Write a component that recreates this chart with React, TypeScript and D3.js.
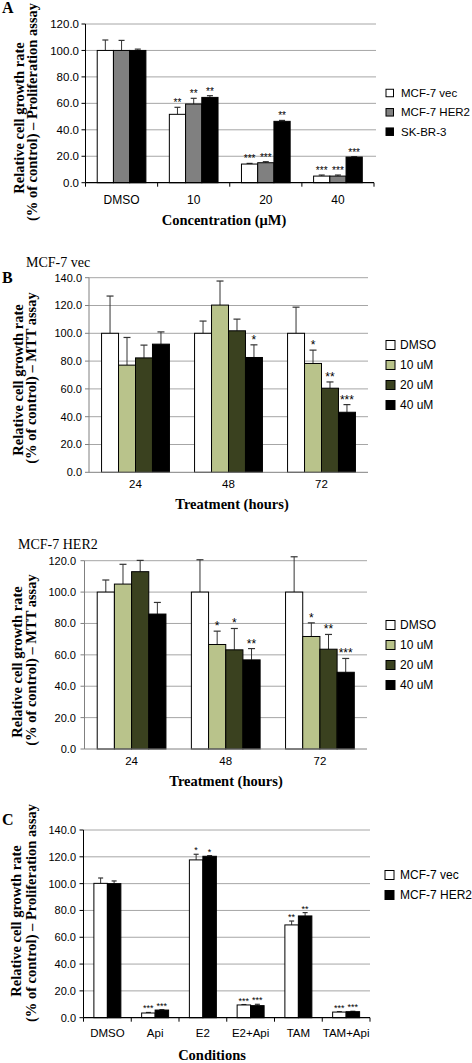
import React from "react";
import * as d3 from "d3";

const SANS = "'Liberation Sans', Arial, Helvetica, sans-serif";
const SERIF = "'Liberation Serif', 'Times New Roman', serif";

// ---------- Panel A ----------
const catsA = ["DMSO", "10", "20", "40"];
const namesA = ["MCF-7 vec", "MCF-7 HER2", "SK-BR-3"];
const colorsA = ["#ffffff", "#808080", "#000000"];
const vecA = [100, 51.7, 14.1, 5.0];
const vecErrA = [7.9, 5.3, 0.5, 0.8];
const vecStarsA = ["", "**", "***", "***"];
const her2A = [100, 59.5, 15.1, 5.0];
const her2ErrA = [7.6, 4.3, 0.8, 0.8];
const her2StarsA = ["", "**", "***", "***"];
const skbrA = [100, 64.5, 46.4, 19.4];
const skbrErrA = [1.0, 1.3, 0.7, 0.3];
const skbrStarsA = ["", "**", "**", "***"];

// ---------- Panel B (MCF-7 vec) ----------
const catsB = ["24", "48", "72"];
const namesB = ["DMSO", "10 uM", "20 uM", "40 uM"];
const colorsB = ["#ffffff", "#b9c38b", "#3a411f", "#000000"];
const dmsoB1 = [100, 100, 100];
const dmsoErrB1 = [26.8, 8.8, 18.8];
const u10B1 = [77.1, 120.3, 78.3];
const u10ErrB1 = [19.9, 17.3, 9.6];
const u20B1 = [82.3, 101.8, 60.5];
const u20ErrB1 = [9.2, 8.4, 4.5];
const u40B1 = [92.2, 82.6, 43.2];
const u40ErrB1 = [8.8, 9.1, 5.5];
const dmsoStarsB1 = ["", "", ""];
const u10StarsB1 = ["", "", "*"];
const u20StarsB1 = ["", "", "**"];
const u40StarsB1 = ["", "*", "***"];

// ---------- Panel B (MCF-7 HER2) ----------
const dmsoB2 = [100, 100, 100];
const dmsoErrB2 = [7.7, 20.6, 22.5];
const u10B2 = [105.1, 66.6, 71.7];
const u10ErrB2 = [12.6, 8.5, 8.7];
const u20B2 = [113.0, 63.2, 63.6];
const u20ErrB2 = [7.2, 13.6, 9.4];
const u40B2 = [86.0, 56.8, 48.9];
const u40ErrB2 = [7.4, 7.2, 8.8];
const dmsoStarsB2 = ["", "", ""];
const u10StarsB2 = ["", "*", "*"];
const u20StarsB2 = ["", "*", "**"];
const u40StarsB2 = ["", "**", "***"];

// ---------- Panel C ----------
const catsC = ["DMSO", "Api", "E2", "E2+Api", "TAM", "TAM+Api"];
const namesC = ["MCF-7 vec", "MCF-7 HER2"];
const colorsC = ["#ffffff", "#000000"];
const vecC = [100.2, 3.5, 117.7, 9.5, 69.2, 4.2];
const vecErrC = [4.0, 0.4, 4.2, 0.3, 2.9, 0.3];
const vecStarsC = ["", "***", "*", "***", "**", "***"];
const her2C = [100, 5.7, 120.4, 9.0, 75.9, 4.5];
const her2ErrC = [2.0, 0.3, 0.5, 1.0, 2.5, 0.3];
const her2StarsC = ["", "***", "*", "***", "**", "***"];

type Series = { name: string; color: string; values: number[]; errs: number[]; stars: string[] };

type PanelCfg = {
  xL: number; xR: number; gridR: number; yBottom: number; yTop: number; yMax: number;
  cats: string[]; series: Series[]; padding: number; capW: number;
  axisColor: string; xTicks: boolean; tickLabelRight: number; tickFont: number;
  catLabelY: number; catFont: number;
  xTitle: string; xTitleX: number; xTitleY: number;
  yTitle: [string, string]; yTitleX: [number, number]; yTitleCY: [number, number];
  legendSqX: number; legendSq: number; legendTextX: number; legendYs: number[]; legendFont: number;
  letter?: string; letterY?: number;
  subtitle?: string; subtitleX?: number; subtitleY?: number;
  starFont: number;
};

function Panel({ c }: { c: PanelCfg }) {
  const y = d3.scaleLinear().domain([0, c.yMax]).range([c.yBottom, c.yTop]);
  const x0 = d3.scaleBand<string>().domain(c.cats).range([c.xL, c.xR])
    .paddingInner(c.padding).paddingOuter(c.padding / 2);
  const x1 = d3.scaleBand<string>().domain(c.series.map((s) => s.name)).range([0, x0.bandwidth()]);
  const ticks = d3.range(0, c.yMax + 0.001, 20);
  const fmt = d3.format(".1f");
  const step = x0.step();
  return (
    <g>
      {ticks.map((t) => (
        <g key={"g" + t}>
          {t > 0 && <line x1={c.xL} x2={c.gridR} y1={y(t)} y2={y(t)} stroke="#a6a6a6" strokeWidth={1} />}
          <line x1={c.xL - 4} x2={c.xL} y1={y(t)} y2={y(t)} stroke={c.axisColor} strokeWidth={1} />
          <text x={c.tickLabelRight} y={y(t) + c.tickFont * 0.36} textAnchor="end"
            fontFamily={SANS} fontSize={c.tickFont} fill="#000">{fmt(t)}</text>
        </g>
      ))}
      {c.cats.map((cat, i) => (
        <g key={cat}>
          {c.series.map((s) => {
            const bx = (x0(cat) as number) + (x1(s.name) as number);
            const bw = x1.bandwidth();
            const v = s.values[i];
            const e = s.errs[i];
            const cx = bx + bw / 2;
            return (
              <g key={s.name}>
                <line x1={cx} x2={cx} y1={y(v)} y2={y(v + e)} stroke="#333" strokeWidth={1} />
                <line x1={cx - c.capW / 2} x2={cx + c.capW / 2} y1={y(v + e)} y2={y(v + e)} stroke="#333" strokeWidth={1.2} />
                <rect x={bx} y={y(v)} width={bw} height={y(0) - y(v)} fill={s.color} stroke="#000" strokeWidth={1} />
                {s.stars[i] && (
                  <text x={cx} y={y(v + e) - 1} textAnchor="middle" fontFamily={SANS}
                    fontSize={c.starFont} fill="#000">{s.stars[i]}</text>
                )}
              </g>
            );
          })}
          <text x={(x0(cat) as number) + x0.bandwidth() / 2} y={c.catLabelY} textAnchor="middle"
            fontFamily={SANS} fontSize={c.catFont} fill="#000">{cat}</text>
        </g>
      ))}
      <line x1={c.xL} x2={c.xL} y1={y(c.yMax)} y2={y(0)} stroke={c.axisColor} strokeWidth={1} />
      <line x1={c.xL} x2={c.xR} y1={y(0)} y2={y(0)} stroke={c.axisColor} strokeWidth={c.xTicks ? 1.3 : 1} />
      {c.xTicks && d3.range(c.cats.length + 1).map((k) => (
        <line key={"xt" + k} x1={c.xL + k * step} x2={c.xL + k * step} y1={y(0)} y2={y(0) + 4}
          stroke={c.axisColor} strokeWidth={1} />
      ))}
      <text x={c.xTitleX} y={c.xTitleY} textAnchor="middle" fontFamily={SERIF} fontWeight="bold"
        fontSize={14.5} fill="#000">{c.xTitle}</text>
      {c.yTitle.map((t, k) => (
        <text key={"yt" + k} transform={`translate(${c.yTitleX[k]},${c.yTitleCY[k]}) rotate(-90)`}
          textAnchor="middle" fontFamily={SERIF} fontWeight="bold" fontSize={14.5} fill="#000">{t}</text>
      ))}
      {c.letter && (
        <text x={2} y={c.letterY} fontFamily={SERIF} fontWeight="bold" fontSize={16} fill="#000">{c.letter}</text>
      )}
      {c.subtitle && (
        <text x={c.subtitleX} y={c.subtitleY} fontFamily={SERIF} fontSize={14} fill="#000">{c.subtitle}</text>
      )}
      {c.series.map((s, k) => (
        <g key={"lg" + k}>
          <rect x={c.legendSqX} y={c.legendYs[k] - c.legendSq / 2} width={c.legendSq} height={c.legendSq}
            fill={s.color} stroke="#000" strokeWidth={1} />
          <text x={c.legendTextX} y={c.legendYs[k] + c.legendFont * 0.36} fontFamily={SANS}
            fontSize={c.legendFont} fill="#000">{s.name}</text>
        </g>
      ))}
    </g>
  );
}

const mk = (names: string[], colors: string[], vals: number[][], errs: number[][], stars: string[][]): Series[] =>
  names.map((n, i) => ({ name: n, color: colors[i], values: vals[i], errs: errs[i], stars: stars[i] }));

const panelA: PanelCfg = {
  xL: 85.5, xR: 374, gridR: 376, yBottom: 182.7, yTop: 24, yMax: 120,
  cats: catsA,
  series: mk(namesA, colorsA, [vecA, her2A, skbrA], [vecErrA, her2ErrA, skbrErrA], [vecStarsA, her2StarsA, skbrStarsA]),
  padding: 0.325, capW: 6, axisColor: "#000", xTicks: true, tickLabelRight: 79, tickFont: 11.5,
  catLabelY: 204, catFont: 12,
  xTitle: "Concentration (\u03bcM)", xTitleX: 224, xTitleY: 225,
  yTitle: ["Relative cell growth rate", "(% of control) \u2013 Proliferation assay"],
  yTitleX: [24, 37], yTitleCY: [118, 112],
  legendSqX: 386, legendSq: 7.5, legendTextX: 401, legendYs: [93, 112.3, 131.7], legendFont: 11.5,
  letter: "A", letterY: 13, starFont: 10,
};

const panelB1: PanelCfg = {
  xL: 89, xR: 368, gridR: 368, yBottom: 472.3, yTop: 277.7, yMax: 140,
  cats: catsB,
  series: mk(namesB, colorsB, [dmsoB1, u10B1, u20B1, u40B1], [dmsoErrB1, u10ErrB1, u20ErrB1, u40ErrB1],
    [dmsoStarsB1, u10StarsB1, u20StarsB1, u40StarsB1]),
  padding: 0.27, capW: 7, axisColor: "#808080", xTicks: false, tickLabelRight: 82, tickFont: 11,
  catLabelY: 488, catFont: 11.5,
  xTitle: "Treatment (hours)", xTitleX: 232, xTitleY: 509,
  yTitle: ["Relative cell growth rate", "(% of control) \u2013 MTT assay"],
  yTitleX: [23, 36], yTitleCY: [380, 378],
  legendSqX: 386, legendSq: 9, legendTextX: 400, legendYs: [345, 365, 385, 405], legendFont: 12,
  letter: "B", letterY: 283, subtitle: "MCF-7 vec", subtitleX: 26, subtitleY: 267, starFont: 12,
};

const panelB2: PanelCfg = {
  xL: 84.5, xR: 367, gridR: 367, yBottom: 749, yTop: 560.7, yMax: 120,
  cats: catsB,
  series: mk(namesB, colorsB, [dmsoB2, u10B2, u20B2, u40B2], [dmsoErrB2, u10ErrB2, u20ErrB2, u40ErrB2],
    [dmsoStarsB2, u10StarsB2, u20StarsB2, u40StarsB2]),
  padding: 0.27, capW: 7, axisColor: "#808080", xTicks: false, tickLabelRight: 76, tickFont: 11,
  catLabelY: 765, catFont: 11.5,
  xTitle: "Treatment (hours)", xTitleX: 226, xTitleY: 786,
  yTitle: ["Relative cell growth rate", "(% of control) \u2013 MTT assay"],
  yTitleX: [22, 36], yTitleCY: [662, 660],
  legendSqX: 386, legendSq: 9, legendTextX: 400, legendYs: [625, 645, 665, 685], legendFont: 12,
  subtitle: "MCF-7 HER2", subtitleX: 18, subtitleY: 549, starFont: 12,
};

const panelC: PanelCfg = {
  xL: 83.5, xR: 370, gridR: 370, yBottom: 1017.7, yTop: 830, yMax: 140,
  cats: catsC,
  series: mk(namesC, colorsC, [vecC, her2C], [vecErrC, her2ErrC], [vecStarsC, her2StarsC]),
  padding: 0.435, capW: 5, axisColor: "#000", xTicks: true, tickLabelRight: 76, tickFont: 11,
  catLabelY: 1037, catFont: 11.5,
  xTitle: "Conditions", xTitleX: 212, xTitleY: 1060,
  yTitle: ["Relative cell growth rate", "(% of control) \u2013 Proliferation assay"],
  yTitleX: [21, 36], yTitleCY: [921, 913],
  legendSqX: 385, legendSq: 9, legendTextX: 400, legendYs: [875, 895], legendFont: 12,
  letter: "C", letterY: 825, starFont: 9,
};

export default function App() {
  return (
    <svg width={472} height={1063} style={{ position: "absolute", left: 0, top: 0, background: "#fff" }}>
      <rect x={0} y={0} width={472} height={1063} fill="#fff" />
      <Panel c={panelA} />
      <Panel c={panelB1} />
      <Panel c={panelB2} />
      <Panel c={panelC} />
    </svg>
  );
}
